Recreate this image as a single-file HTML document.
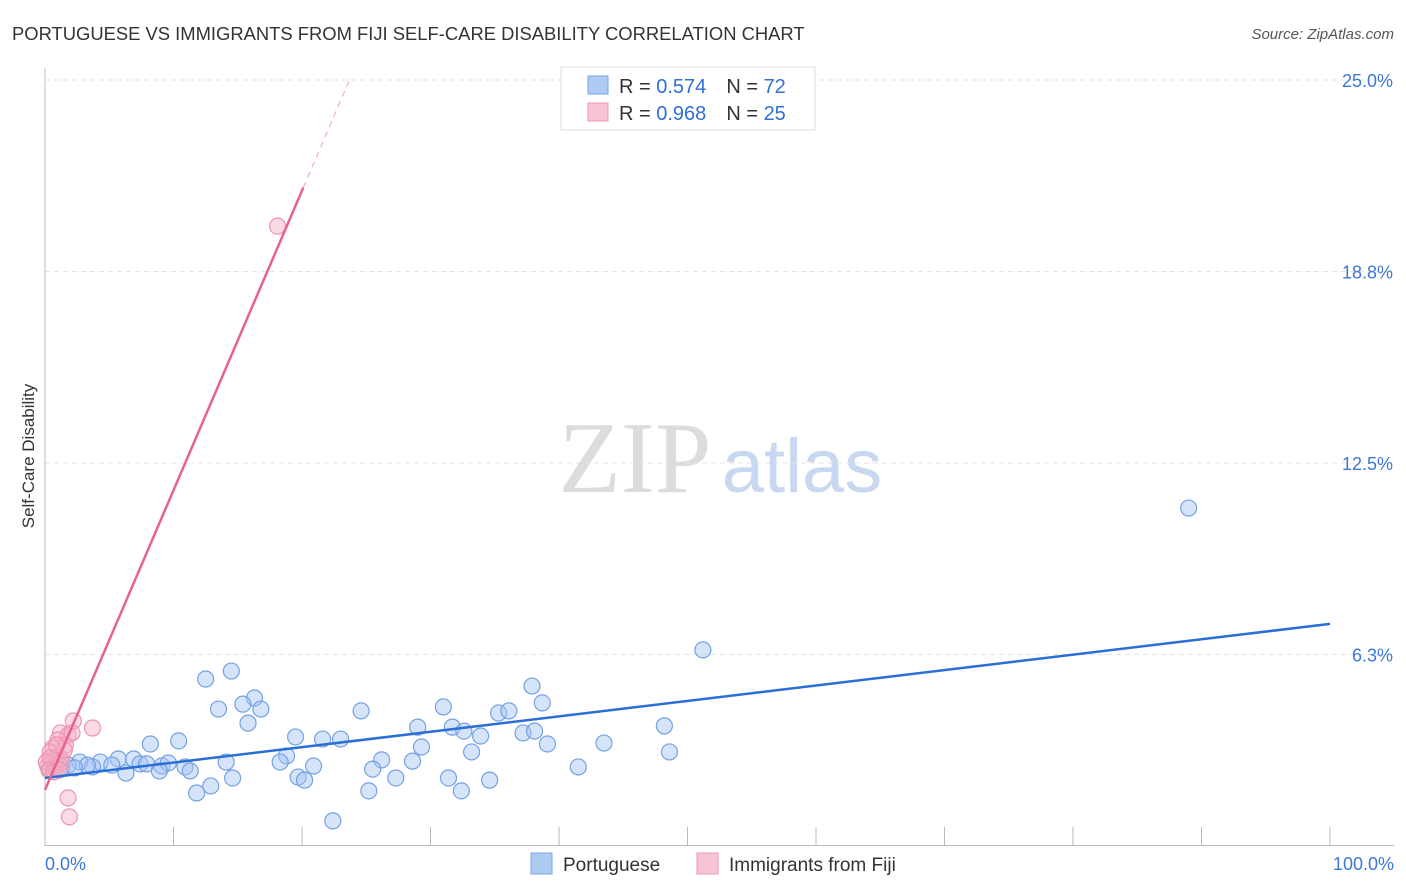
<!DOCTYPE html>
<html><head><meta charset="utf-8"><style>
body{margin:0;background:#fff;font-family:"Liberation Sans",sans-serif;}
#wrap{position:relative;width:1406px;height:892px;overflow:hidden;}
</style></head><body>
<div id="wrap">
<svg id="svg" width="1406" height="892" xmlns="http://www.w3.org/2000/svg">
<text x="12" y="40" font-size="18.4" fill="#333">PORTUGUESE VS IMMIGRANTS FROM FIJI SELF-CARE DISABILITY CORRELATION CHART</text>
<text x="1394" y="39" font-size="15" fill="#555" font-style="italic" text-anchor="end">Source: ZipAtlas.com</text>
<text x="34" y="456" font-size="17" fill="#333" text-anchor="middle" transform="rotate(-90 34 456)">Self-Care Disability</text>
<g>
<text x="635" y="492" font-size="102" font-family="Liberation Serif,serif" fill="#dcdcdc" text-anchor="middle">ZIP</text>
<text x="802" y="492" font-size="76" fill="#c8d8f0" text-anchor="middle">atlas</text>
</g>
<g id="grid"></g>
<g id="axes"></g>
<g id="marks"></g>
<g>
<rect x="561" y="67" width="254" height="63" fill="#fff" stroke="#ddd"/>
<rect x="588" y="76" width="20" height="18" fill="#aecbf3" stroke="#7aa6e6"/>
<rect x="588" y="103" width="20" height="18" fill="#f8c3d3" stroke="#eb9ab5"/>
<text x="619" y="93" font-size="20" fill="#333">R = <tspan fill="#2f6fd6">0.574</tspan><tspan dx="20">N = </tspan><tspan fill="#2f6fd6">72</tspan></text>
<text x="619" y="120" font-size="20" fill="#333">R = <tspan fill="#2f6fd6">0.968</tspan><tspan dx="20">N = </tspan><tspan fill="#2f6fd6">25</tspan></text>
</g>
<g>
<rect x="531" y="853" width="21" height="21" fill="#aecbf3" stroke="#7aa6e6"/>
<text x="563" y="871" font-size="19" fill="#333">Portuguese</text>
<rect x="697" y="853" width="21" height="21" fill="#f8c3d3" stroke="#eb9ab5"/>
<text x="729" y="871" font-size="19" fill="#333">Immigrants from Fiji</text>
</g>
</svg>
</div>
<script>
const yTicks=[6.25,12.5,18.75,25];
const yTickLabels=["6.3%","12.5%","18.8%","25.0%"];
const xEndLabels=["0.0%","100.0%"];
const blueX=[89.0,51.2,14.5,12.5,37.9,16.3,38.7,15.4,13.5,16.8,24.6,31.0,35.3,36.1,15.8,29.0,31.7,48.2,32.6,37.2,38.1,33.9,19.5,21.6,23.0,10.4,8.2,39.1,43.5,29.3,33.2,48.6,18.8,5.7,6.9,4.3,2.7,5.2,1.0,1.8,3.7,3.3,7.4,9.1,9.6,7.9,10.9,11.3,8.9,14.1,18.3,20.9,26.2,28.6,6.3,14.6,19.7,20.2,25.5,27.3,31.4,34.6,41.5,12.9,11.8,25.2,32.4,22.4,0.4,0.8,1.3,2.3];
const blueY=[11.03,6.40,5.71,5.45,5.22,4.83,4.67,4.63,4.47,4.47,4.41,4.54,4.34,4.41,4.01,3.88,3.88,3.92,3.75,3.69,3.75,3.59,3.56,3.49,3.49,3.43,3.33,3.33,3.36,3.23,3.07,3.07,2.94,2.84,2.84,2.74,2.74,2.64,2.74,2.64,2.58,2.64,2.68,2.61,2.71,2.68,2.58,2.45,2.45,2.74,2.74,2.61,2.81,2.77,2.38,2.22,2.25,2.15,2.51,2.22,2.22,2.15,2.58,1.96,1.73,1.80,1.80,0.82,2.48,2.64,2.58,2.55];
const pinkX=[18.1,3.7,2.2,1.2,1.8,1.0,1.6,0.6,0.4,0.9,1.2,0.5,0.2,0.8,1.3,0.1,0.4,1.8,1.9,1.5,0.9,2.1,0.3,0.7,1.1];
const pinkY=[20.23,3.85,4.08,3.69,3.62,3.46,3.30,3.20,3.07,2.90,2.87,2.74,2.61,2.55,2.74,2.74,2.87,1.57,0.95,3.13,3.30,3.69,2.48,2.42,2.48];
const blueLine=[2.22,7.25];
const pinkLine=[1.83,0.978];
const NS="http://www.w3.org/2000/svg";
const X0=45,X1=1330,Y0=846,PXY=30.64;
const sx=v=>X0+(X1-X0)*v/100;
const sy=v=>Y0-v*PXY;
function mk(t,a,p){const e=document.createElementNS(NS,t);for(const k in a)e.setAttribute(k,a[k]);p.appendChild(e);return e;}
const grid=document.getElementById('grid'),axes=document.getElementById('axes'),marks=document.getElementById('marks');
yTicks.forEach((t,i)=>{
 const l=mk('line',{x1:45,x2:1394,y1:sy(t),y2:sy(t),stroke:'#e3e3e3','stroke-dasharray':'5,4'},grid);
 
 
 const tx=mk('text',{x:1393,y:sy(t)+7,'font-size':18,fill:'#3d78d8','text-anchor':'end'},axes);
 tx.textContent=yTickLabels[i];
 
 
});
const ax1=mk('line',{x1:45,x2:45,y1:68,y2:846,stroke:'#bbb'},axes);


const ax2=mk('line',{x1:45,x2:1394,y1:845.5,y2:845.5,stroke:'#bbb'},axes);


for(let i=1;i<=10;i++){
 const t=mk('line',{x1:sx(i*10),x2:sx(i*10),y1:827,y2:846,stroke:'#bbb'},axes);
 
 
}
const xl0=mk('text',{x:45,y:870,'font-size':18,fill:'#3d78d8'},axes);xl0.textContent=xEndLabels[0];


const xl1=mk('text',{x:1394,y:870,'font-size':18,fill:'#3d78d8','text-anchor':'end'},axes);xl1.textContent=xEndLabels[1];


blueX.forEach((x,i)=>{
 const c=mk('circle',{cx:sx(x),cy:sy(blueY[i]),r:8,fill:'rgba(164,196,244,0.45)',stroke:'#73a1e3','stroke-width':1.2},marks);
 
 
});
pinkX.forEach((x,i)=>{
 const c=mk('circle',{cx:sx(x),cy:sy(pinkY[i]),r:8,fill:'rgba(246,172,196,0.45)',stroke:'#ec94b1','stroke-width':1.2},marks);
 
 
});
const bl=mk('line',{x1:sx(0),y1:sy(blueLine[0]),x2:sx(100),y2:sy(blueLine[1]),stroke:'#2b6fd6','stroke-width':2.5},marks);


const pxEnd=20.1,pxDash=(25-pinkLine[0])/pinkLine[1];
const pl=mk('line',{x1:sx(0),y1:sy(pinkLine[0]),x2:sx(pxEnd),y2:sy(pinkLine[0]+pinkLine[1]*pxEnd),stroke:'#e8628e','stroke-width':2.5},marks);


const pd=mk('line',{x1:sx(pxEnd),y1:sy(pinkLine[0]+pinkLine[1]*pxEnd),x2:sx(pxDash),y2:sy(25),stroke:'#eea0b8','stroke-width':1,'stroke-dasharray':'6,5'},marks);


</script>
</body></html>
